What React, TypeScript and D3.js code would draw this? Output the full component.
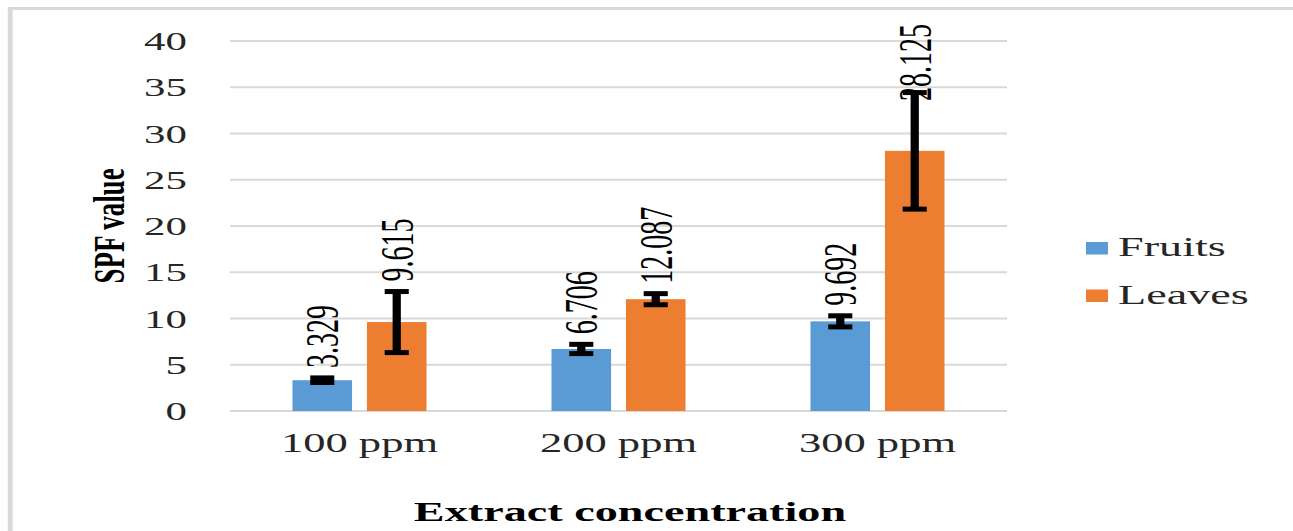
import React from "react";
import * as d3 from "d3";

const categories = ["100 ppm", "200 ppm", "300 ppm"];
const seriesNames = ["Fruits", "Leaves"];
const fruitsValues = [3.329, 6.706, 9.692];
const leavesValues = [9.615, 12.087, 28.125];
const fruitsErrors = [0.25, 0.5, 0.6];
const leavesErrors = [3.3, 0.6, 6.3];
const yTicks = [0, 5, 10, 15, 20, 25, 30, 35, 40];
const colors = ["#5B9BD5", "#ED7D31"];

const S = 1.65; // horizontal stretch of the picture
const SW = 1293;
const SH = 531;
const W = SW / S;
const font = "'Liberation Serif', 'Times New Roman', serif";

export default function App() {
  const plotL = 230 / S;
  const plotR = 1007 / S;
  const plotT = 41;
  const plotB = 411;

  const x0 = d3.scaleBand<string>().domain(categories).range([plotL, plotR]).padding(0);
  const bw = x0.bandwidth();
  const x1 = d3
    .scaleBand<string>()
    .domain(seriesNames)
    .range([bw * 0.2413, bw * 0.7587])
    .paddingInner(0.2)
    .paddingOuter(0);
  const y = d3.scaleLinear().domain([0, 40]).range([plotB, plotT]);

  const data = seriesNames.map((name, si) => ({
    name,
    color: colors[si],
    values: si === 0 ? fruitsValues : leavesValues,
    errors: si === 0 ? fruitsErrors : leavesErrors,
  }));

  const capHalf = 7.3;
  const labelSize = 28;

  return (
    <svg
      width={SW}
      height={SH}
      viewBox={`0 0 ${W} ${SH}`}
      preserveAspectRatio="none"
      style={{ position: "absolute", left: 0, top: 0, display: "block", background: "#fff" }}
    >
      {/* outer chart border */}
      <rect x={6.2} y={8.5} width={W + 20} height={SH + 20} fill="none" stroke="#d9d9d9" strokeWidth={3} />

      {/* gridlines */}
      {yTicks.map((t) => (
        <line key={"g" + t} x1={plotL} x2={plotR} y1={y(t)} y2={y(t)} stroke="#d9d9d9" strokeWidth={2} />
      ))}
      {/* y tick labels */}
      {yTicks.map((t) => (
        <text
          key={"yt" + t}
          x={113.3}
          y={y(t)}
          dy="0.35em"
          textAnchor="end"
          fontFamily={font}
          fontSize={26}
          fill="#262626"
        >
          {t}
        </text>
      ))}

      {/* bars */}
      {data.map((s) =>
        categories.map((c, i) => {
          const xb = (x0(c) as number) + (x1(s.name) as number);
          return (
            <rect
              key={s.name + c}
              x={xb}
              y={y(s.values[i])}
              width={x1.bandwidth()}
              height={plotB - y(s.values[i])}
              fill={s.color}
            />
          );
        })
      )}

      {/* error bars */}
      {data.map((s) =>
        categories.map((c, i) => {
          const cx = (x0(c) as number) + (x1(s.name) as number) + x1.bandwidth() / 2;
          const hi = y(s.values[i] + s.errors[i]);
          const lo = y(s.values[i] - s.errors[i]);
          return (
            <g key={"e" + s.name + c} stroke="#000" strokeWidth={5}>
              <line x1={cx} x2={cx} y1={hi} y2={lo} />
              <line x1={cx - capHalf} x2={cx + capHalf} y1={hi} y2={hi} />
              <line x1={cx - capHalf} x2={cx + capHalf} y1={lo} y2={lo} />
            </g>
          );
        })
      )}

      {/* data labels */}
      {data.map((s) =>
        categories.map((c, i) => {
          const cx = (x0(c) as number) + (x1(s.name) as number) + x1.bandwidth() / 2;
          const txt = s.values[i].toFixed(3);
          const len = txt.length * 0.47 * labelSize;
          const yl = Math.max(y(s.values[i] + s.errors[i]) - 10, 22 + len);
          return (
            <text
              key={"l" + s.name + c}
              transform={`translate(${cx},${yl}) rotate(-90)`}
              dy="0.35em"
              textAnchor="start"
              fontFamily={font}
              fontSize={labelSize}
              fill="#000"
            >
              {txt}
            </text>
          );
        })
      )}

      {/* x tick labels */}
      {categories.map((c) => (
        <text
          key={"xt" + c}
          x={(x0(c) as number) + bw / 2}
          y={452}
          textAnchor="middle"
          fontFamily={font}
          fontSize={27}
          fill="#262626"
        >
          {c}
        </text>
      ))}

      {/* axis titles */}
      <text
        transform={`translate(${108 / S},${(plotT + plotB) / 2}) rotate(-90)`}
        dy="0.35em"
        textAnchor="middle"
        fontFamily={font}
        fontSize={27}
        fontWeight="bold"
        fill="#000"
      >
        SPF value
      </text>
      <text x={630 / S} y={521} textAnchor="middle" fontFamily={font} fontSize={28} fontWeight="bold" fill="#000">
        Extract concentration
      </text>

      {/* legend */}
      {seriesNames.map((n, i) => (
        <g key={"lg" + n}>
          <rect x={1086 / S} y={242 + i * 47.5} width={22 / S} height={12.5} fill={colors[i]} />
          <text x={1118 / S} y={256 + i * 48} fontFamily={font} fontSize={28} fill="#262626">
            {n}
          </text>
        </g>
      ))}
    </svg>
  );
}
